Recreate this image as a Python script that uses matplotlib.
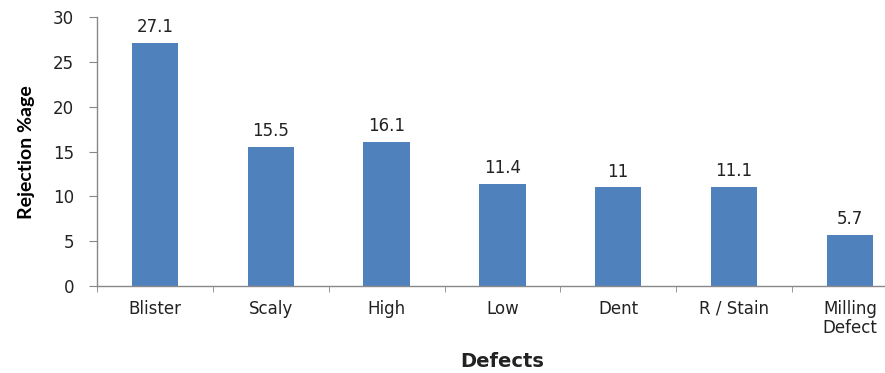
import numpy as np
import matplotlib.pyplot as plt

defects = ["Blister", "Scaly", "High", "Low", "Dent", "R / Stain", "Milling\nDefect"]
rejection = [27.1, 15.5, 16.1, 11.4, 11.0, 11.1, 5.7]
value_labels = ["27.1", "15.5", "16.1", "11.4", "11", "11.1", "5.7"]
yticks = [0, 5, 10, 15, 20, 25, 30]

bar_color = "#4F81BD"
axis_color = "#888888"
text_color = "#222222"

fig = plt.figure(figsize=(8.85, 3.73), dpi=100)
ax = fig.add_axes([0.1097, 0.2332, 0.916, 0.7204])

x = np.arange(len(defects))
ax.bar(x, rejection, width=0.4, color=bar_color)

for xi, v, lab in zip(x, rejection, value_labels):
    ax.annotate(lab, (xi, v), xytext=(0, 5), textcoords="offset points",
                ha="center", va="bottom", fontsize=12, color=text_color)

ax.set_xlim(-0.5, len(defects) - 0.5)
ax.set_ylim(0, 30)
ax.set_yticks(yticks)
ax.set_xticks(x)
ax.set_xticklabels(defects, fontsize=12, color=text_color, linespacing=1.05)
ax.set_xticks(np.arange(-0.5, len(defects), 1.0), minor=True)
ax.tick_params(axis="x", which="major", length=0, pad=10)
ax.tick_params(axis="x", which="minor", length=4.5, color=axis_color, direction="out")
ax.tick_params(axis="y", length=5.5, color=axis_color, direction="out", pad=11,
               labelsize=12, labelcolor=text_color)

for side in ["top", "right"]:
    ax.spines[side].set_visible(False)
for side in ["left", "bottom"]:
    ax.spines[side].set_color(axis_color)
    ax.spines[side].set_linewidth(1.0)

ax.set_ylabel("Rejection %age", fontsize=14, fontweight="bold",
              family=["Lato", "DejaVu Sans"], color="black")
ax.yaxis.set_label_coords(-0.077, 0.5)
ax.set_xlabel("Defects", fontsize=14, fontweight="bold", color=text_color)
ax.xaxis.set_label_coords(0.5, -0.245)

fig.savefig("out.png", dpi=100)
